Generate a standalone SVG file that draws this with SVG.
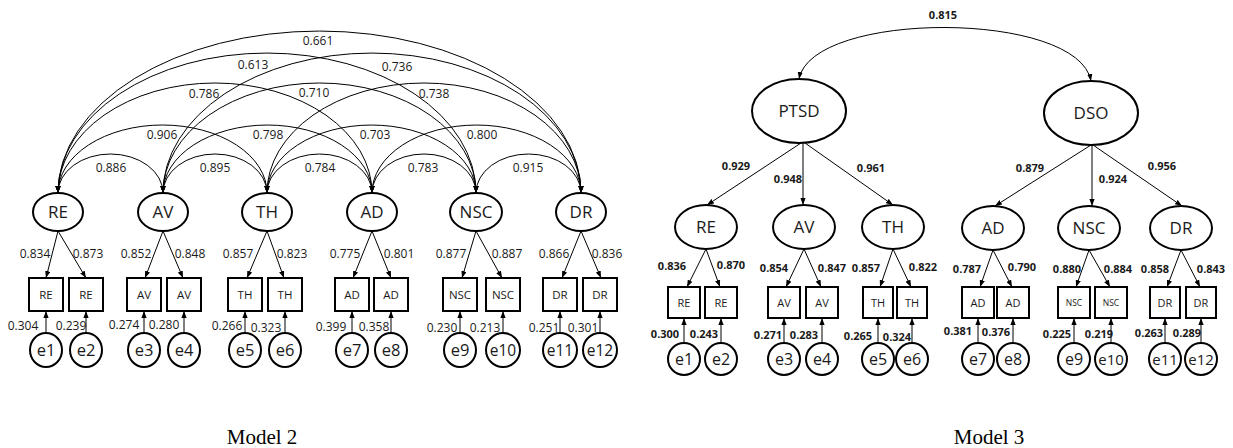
<svg xmlns="http://www.w3.org/2000/svg" width="1233" height="448" viewBox="0 0 1233 448">
<defs>
<marker id="ah" viewBox="0 0 8 6" refX="8" refY="3" markerWidth="7" markerHeight="5.5" markerUnits="userSpaceOnUse" orient="auto-start-reverse">
<path d="M0,0 L8,3 L0,6 z" fill="#000"/>
</marker>
</defs>
<style>
.lat{fill:#fff;stroke:#000;stroke-width:2}
.box{fill:#fff;stroke:#000;stroke-width:2}
.err{fill:#fff;stroke:#000;stroke-width:2}
.cn{fill:none;stroke:#000;stroke-width:1}
.ar{marker-end:url(#ah)}
.cv{fill:none;stroke:#000;stroke-width:1;marker-start:url(#ah);marker-end:url(#ah)}
text{font-family:"Open Sans","Liberation Sans",sans-serif;fill:#1a1a1a;text-anchor:middle}
.ll{font-size:17px}
.bl{font-size:11.5px}
.el{font-size:16.5px}
.n2{font-size:12px}
.n3{font-size:11px;font-weight:bold}
.cap{font-family:"Liberation Serif",serif;font-size:21px;fill:#000}
</style>

<g id="connectors">
<path class="cv" d="M58 193 A52.5 39 0 0 1 163 193"/>
<path class="cv" d="M163 193 A52 39 0 0 1 267 193"/>
<path class="cv" d="M267 193 A52.5 39 0 0 1 372 193"/>
<path class="cv" d="M372 193 A52 39 0 0 1 476 193"/>
<path class="cv" d="M476 193 A52.5 39 0 0 1 581 193"/>
<path class="cv" d="M58 193 A104.5 68 0 0 1 267 193"/>
<path class="cv" d="M163 193 A104.5 68 0 0 1 372 193"/>
<path class="cv" d="M267 193 A104.5 68 0 0 1 476 193"/>
<path class="cv" d="M372 193 A104.5 68 0 0 1 581 193"/>
<path class="cv" d="M58 193 A157 110 0 0 1 372 193"/>
<path class="cv" d="M163 193 A156.5 110 0 0 1 476 193"/>
<path class="cv" d="M267 193 A157 110 0 0 1 581 193"/>
<path class="cv" d="M58 193 A209 140 0 0 1 476 193"/>
<path class="cv" d="M163 193 A209 140 0 0 1 581 193"/>
<path class="cv" d="M58 193 A261.5 162 0 0 1 581 193"/>
<line class="cn ar" x1="58" y1="231" x2="46" y2="278"/>
<line class="cn ar" x1="58" y1="231" x2="86" y2="278"/>
<line class="cn ar" x1="163" y1="231" x2="145" y2="278"/>
<line class="cn ar" x1="163" y1="231" x2="183" y2="278"/>
<line class="cn ar" x1="267" y1="231" x2="247" y2="278"/>
<line class="cn ar" x1="267" y1="231" x2="284" y2="278"/>
<line class="cn ar" x1="372" y1="231" x2="353" y2="278"/>
<line class="cn ar" x1="372" y1="231" x2="391" y2="278"/>
<line class="cn ar" x1="476" y1="231" x2="462" y2="278"/>
<line class="cn ar" x1="476" y1="231" x2="502" y2="278"/>
<line class="cn ar" x1="581" y1="231" x2="562" y2="278"/>
<line class="cn ar" x1="581" y1="231" x2="601" y2="278"/>
<line class="cn ar" x1="46" y1="333" x2="46" y2="311"/>
<line class="cn ar" x1="86" y1="333" x2="86" y2="311"/>
<line class="cn ar" x1="144" y1="333" x2="144" y2="311"/>
<line class="cn ar" x1="184" y1="333" x2="184" y2="311"/>
<line class="cn ar" x1="245" y1="333" x2="245" y2="311"/>
<line class="cn ar" x1="285" y1="333" x2="285" y2="311"/>
<line class="cn ar" x1="352" y1="333" x2="352" y2="311"/>
<line class="cn ar" x1="391" y1="333" x2="391" y2="311"/>
<line class="cn ar" x1="460" y1="333" x2="460" y2="311"/>
<line class="cn ar" x1="503" y1="333" x2="503" y2="311"/>
<line class="cn ar" x1="560" y1="333" x2="560" y2="311"/>
<line class="cn ar" x1="600" y1="333" x2="600" y2="311"/>

<path class="cv" d="M799 79 C812 10 1078 10 1091 81"/>
<line class="cn ar" x1="801" y1="143" x2="707" y2="205"/>
<line class="cn ar" x1="803" y1="143" x2="803" y2="205"/>
<line class="cn ar" x1="805" y1="143" x2="893" y2="205"/>
<line class="cn ar" x1="1091" y1="145" x2="995" y2="206"/>
<line class="cn ar" x1="1092" y1="145" x2="1092" y2="206"/>
<line class="cn ar" x1="1093" y1="145" x2="1182" y2="206"/>
<line class="cn ar" x1="706" y1="249" x2="687" y2="287"/>
<line class="cn ar" x1="706" y1="249" x2="720" y2="287"/>
<line class="cn ar" x1="804" y1="249" x2="786" y2="287"/>
<line class="cn ar" x1="804" y1="249" x2="821" y2="287"/>
<line class="cn ar" x1="893" y1="249" x2="880" y2="287"/>
<line class="cn ar" x1="893" y1="249" x2="911" y2="287"/>
<line class="cn ar" x1="993" y1="250" x2="980" y2="287"/>
<line class="cn ar" x1="993" y1="250" x2="1012" y2="287"/>
<line class="cn ar" x1="1089" y1="250" x2="1076" y2="287"/>
<line class="cn ar" x1="1089" y1="250" x2="1110" y2="287"/>
<line class="cn ar" x1="1181" y1="250" x2="1167" y2="287"/>
<line class="cn ar" x1="1181" y1="250" x2="1200" y2="287"/>
<line class="cn ar" x1="684" y1="343" x2="684" y2="318"/>
<line class="cn ar" x1="721" y1="343" x2="721" y2="318"/>
<line class="cn ar" x1="784" y1="343" x2="784" y2="318"/>
<line class="cn ar" x1="822" y1="343" x2="822" y2="318"/>
<line class="cn ar" x1="878" y1="343" x2="878" y2="318"/>
<line class="cn ar" x1="912" y1="343" x2="912" y2="318"/>
<line class="cn ar" x1="978" y1="343" x2="978" y2="318"/>
<line class="cn ar" x1="1013" y1="343" x2="1013" y2="318"/>
<line class="cn ar" x1="1074" y1="343" x2="1074" y2="318"/>
<line class="cn ar" x1="1111" y1="343" x2="1111" y2="318"/>
<line class="cn ar" x1="1165" y1="343" x2="1165" y2="318"/>
<line class="cn ar" x1="1201" y1="343" x2="1201" y2="318"/>
</g>

<g id="labels-model2">
<text class="n2" x="318" y="45">0.661</text>
<text class="n2" x="253" y="69">0.613</text>
<text class="n2" x="397" y="71">0.736</text>
<text class="n2" x="204" y="98">0.786</text>
<text class="n2" x="314" y="97">0.710</text>
<text class="n2" x="434" y="98">0.738</text>
<text class="n2" x="162" y="139">0.906</text>
<text class="n2" x="268" y="139">0.798</text>
<text class="n2" x="375" y="139">0.703</text>
<text class="n2" x="482" y="139">0.800</text>
<text class="n2" x="111" y="172">0.886</text>
<text class="n2" x="215" y="172">0.895</text>
<text class="n2" x="320" y="172">0.784</text>
<text class="n2" x="423" y="172">0.783</text>
<text class="n2" x="528" y="172">0.915</text>
<text class="n2" x="35" y="258">0.834</text>
<text class="n2" x="88" y="258">0.873</text>
<text class="n2" x="136" y="258">0.852</text>
<text class="n2" x="190" y="258">0.848</text>
<text class="n2" x="238" y="258">0.857</text>
<text class="n2" x="292" y="258">0.823</text>
<text class="n2" x="345" y="258">0.775</text>
<text class="n2" x="399" y="258">0.801</text>
<text class="n2" x="451" y="258">0.877</text>
<text class="n2" x="507" y="258">0.887</text>
<text class="n2" x="554" y="258">0.866</text>
<text class="n2" x="607" y="258">0.836</text>
<text class="n2" x="23" y="330">0.304</text>
<text class="n2" x="71" y="330">0.239</text>
<text class="n2" x="124" y="329">0.274</text>
<text class="n2" x="164" y="329">0.280</text>
<text class="n2" x="227" y="330">0.266</text>
<text class="n2" x="266" y="332">0.323</text>
<text class="n2" x="331" y="331">0.399</text>
<text class="n2" x="374" y="331">0.358</text>
<text class="n2" x="442" y="332">0.230</text>
<text class="n2" x="485" y="332">0.213</text>
<text class="n2" x="544" y="332">0.251</text>
<text class="n2" x="583" y="332">0.301</text>
</g>

<g id="labels-model3">
<text class="n3" x="943" y="19">0.815</text>
<text class="n3" x="736" y="170">0.929</text>
<text class="n3" x="788" y="183">0.948</text>
<text class="n3" x="871" y="172">0.961</text>
<text class="n3" x="1030" y="172">0.879</text>
<text class="n3" x="1113" y="183">0.924</text>
<text class="n3" x="1162" y="170">0.956</text>
<text class="n3" x="672" y="270">0.836</text>
<text class="n3" x="731" y="269">0.870</text>
<text class="n3" x="774" y="272">0.854</text>
<text class="n3" x="832" y="272">0.847</text>
<text class="n3" x="866" y="272">0.857</text>
<text class="n3" x="923" y="271">0.822</text>
<text class="n3" x="967" y="273">0.787</text>
<text class="n3" x="1022" y="271">0.790</text>
<text class="n3" x="1067" y="273">0.880</text>
<text class="n3" x="1118" y="273">0.884</text>
<text class="n3" x="1155" y="273">0.858</text>
<text class="n3" x="1211" y="273">0.843</text>
<text class="n3" x="665" y="338">0.300</text>
<text class="n3" x="704" y="338">0.243</text>
<text class="n3" x="768" y="339">0.271</text>
<text class="n3" x="804" y="339">0.283</text>
<text class="n3" x="858" y="340">0.265</text>
<text class="n3" x="897" y="341">0.324</text>
<text class="n3" x="958" y="335">0.381</text>
<text class="n3" x="996" y="336">0.376</text>
<text class="n3" x="1057" y="338">0.225</text>
<text class="n3" x="1099" y="338">0.219</text>
<text class="n3" x="1149" y="337">0.263</text>
<text class="n3" x="1187" y="337">0.289</text>
</g>

<g id="m2-RE"><ellipse class="lat" cx="58" cy="212" rx="25" ry="19"/><text class="ll" x="58" y="218">RE</text></g>
<g id="m2-AV"><ellipse class="lat" cx="163" cy="212" rx="25" ry="19"/><text class="ll" x="163" y="218">AV</text></g>
<g id="m2-TH"><ellipse class="lat" cx="267" cy="212" rx="25" ry="19"/><text class="ll" x="267" y="218">TH</text></g>
<g id="m2-AD"><ellipse class="lat" cx="372" cy="212" rx="25" ry="19"/><text class="ll" x="372" y="218">AD</text></g>
<g id="m2-NSC"><ellipse class="lat" cx="476" cy="212" rx="26" ry="19"/><text class="ll" x="476" y="218">NSC</text></g>
<g id="m2-DR"><ellipse class="lat" cx="581" cy="212" rx="25" ry="19"/><text class="ll" x="581" y="218">DR</text></g>

<g id="m2-RE1"><rect class="box" x="29" y="278" width="34" height="33"/><text class="bl" x="46" y="299">RE</text></g>
<g id="m2-RE2"><rect class="box" x="69" y="278" width="34" height="33"/><text class="bl" x="86" y="299">RE</text></g>
<g id="m2-AV1"><rect class="box" x="127" y="278" width="34" height="33"/><text class="bl" x="144" y="299">AV</text></g>
<g id="m2-AV2"><rect class="box" x="167" y="278" width="34" height="33"/><text class="bl" x="184" y="299">AV</text></g>
<g id="m2-TH1"><rect class="box" x="228" y="278" width="34" height="33"/><text class="bl" x="245" y="299">TH</text></g>
<g id="m2-TH2"><rect class="box" x="268" y="278" width="34" height="33"/><text class="bl" x="285" y="299">TH</text></g>
<g id="m2-AD1"><rect class="box" x="335" y="278" width="34" height="33"/><text class="bl" x="352" y="299">AD</text></g>
<g id="m2-AD2"><rect class="box" x="374" y="278" width="34" height="33"/><text class="bl" x="391" y="299">AD</text></g>
<g id="m2-NSC1"><rect class="box" x="443" y="278" width="34" height="33"/><text class="bl" x="460" y="299">NSC</text></g>
<g id="m2-NSC2"><rect class="box" x="486" y="278" width="34" height="33"/><text class="bl" x="503" y="299">NSC</text></g>
<g id="m2-DR1"><rect class="box" x="543" y="278" width="34" height="33"/><text class="bl" x="560" y="299">DR</text></g>
<g id="m2-DR2"><rect class="box" x="583" y="278" width="34" height="33"/><text class="bl" x="600" y="299">DR</text></g>

<g id="m2-e1"><ellipse class="err" cx="46" cy="350" rx="16" ry="17"/><text class="el" x="46" y="356">e1</text></g>
<g id="m2-e2"><ellipse class="err" cx="86" cy="350" rx="16" ry="17"/><text class="el" x="86" y="356">e2</text></g>
<g id="m2-e3"><ellipse class="err" cx="144" cy="350" rx="16" ry="17"/><text class="el" x="144" y="356">e3</text></g>
<g id="m2-e4"><ellipse class="err" cx="184" cy="350" rx="16" ry="17"/><text class="el" x="184" y="356">e4</text></g>
<g id="m2-e5"><ellipse class="err" cx="245" cy="350" rx="16" ry="17"/><text class="el" x="245" y="356">e5</text></g>
<g id="m2-e6"><ellipse class="err" cx="285" cy="350" rx="16" ry="17"/><text class="el" x="285" y="356">e6</text></g>
<g id="m2-e7"><ellipse class="err" cx="352" cy="350" rx="16" ry="17"/><text class="el" x="352" y="356">e7</text></g>
<g id="m2-e8"><ellipse class="err" cx="391" cy="350" rx="16" ry="17"/><text class="el" x="391" y="356">e8</text></g>
<g id="m2-e9"><ellipse class="err" cx="460" cy="350" rx="16" ry="17"/><text class="el" x="460" y="356">e9</text></g>
<g id="m2-e10"><ellipse class="err" cx="503" cy="350" rx="17" ry="17"/><text class="el" x="503" y="356" style="font-size:15.5px">e10</text></g>
<g id="m2-e11"><ellipse class="err" cx="560" cy="350" rx="17" ry="17"/><text class="el" x="560" y="356" style="font-size:15.5px">e11</text></g>
<g id="m2-e12"><ellipse class="err" cx="600" cy="350" rx="17" ry="17"/><text class="el" x="600" y="356" style="font-size:15.5px">e12</text></g>

<g id="m3-PTSD"><ellipse class="lat" cx="799" cy="111" rx="47" ry="32"/><text class="ll" x="799" y="117">PTSD</text></g>
<g id="m3-DSO"><ellipse class="lat" cx="1091" cy="113" rx="47" ry="32"/><text class="ll" x="1091" y="119">DSO</text></g>

<g id="m3-RE"><ellipse class="lat" cx="706" cy="227" rx="31" ry="22"/><text class="ll" x="706" y="233">RE</text></g>
<g id="m3-AV"><ellipse class="lat" cx="804" cy="227" rx="31" ry="22"/><text class="ll" x="804" y="233">AV</text></g>
<g id="m3-TH"><ellipse class="lat" cx="893" cy="227" rx="31" ry="22"/><text class="ll" x="893" y="233">TH</text></g>
<g id="m3-AD"><ellipse class="lat" cx="993" cy="228" rx="31" ry="22"/><text class="ll" x="993" y="234">AD</text></g>
<g id="m3-NSC"><ellipse class="lat" cx="1089" cy="228" rx="31" ry="22"/><text class="ll" x="1089" y="234">NSC</text></g>
<g id="m3-DR"><ellipse class="lat" cx="1181" cy="228" rx="31" ry="22"/><text class="ll" x="1181" y="234">DR</text></g>

<g id="m3-RE1"><rect class="box" x="668" y="287" width="32" height="31"/><text class="bl" x="684" y="307" style="font-size:11px">RE</text></g>
<g id="m3-RE2"><rect class="box" x="705" y="287" width="32" height="31"/><text class="bl" x="721" y="307" style="font-size:11px">RE</text></g>
<g id="m3-AV1"><rect class="box" x="768" y="287" width="32" height="31"/><text class="bl" x="784" y="307" style="font-size:11px">AV</text></g>
<g id="m3-AV2"><rect class="box" x="806" y="287" width="32" height="31"/><text class="bl" x="822" y="307" style="font-size:11px">AV</text></g>
<g id="m3-TH1"><rect class="box" x="863" y="287" width="30" height="31"/><text class="bl" x="878" y="307" style="font-size:11px">TH</text></g>
<g id="m3-TH2"><rect class="box" x="897" y="287" width="30" height="31"/><text class="bl" x="912" y="307" style="font-size:11px">TH</text></g>
<g id="m3-AD1"><rect class="box" x="962" y="287" width="32" height="31"/><text class="bl" x="978" y="307" style="font-size:11px">AD</text></g>
<g id="m3-AD2"><rect class="box" x="997" y="287" width="32" height="31"/><text class="bl" x="1013" y="307" style="font-size:11px">AD</text></g>
<g id="m3-NSC1"><rect class="box" x="1058" y="287" width="32" height="31"/><text class="bl" x="1074" y="306" style="font-size:8.5px">NSC</text></g>
<g id="m3-NSC2"><rect class="box" x="1095" y="287" width="32" height="31"/><text class="bl" x="1111" y="306" style="font-size:8.5px">NSC</text></g>
<g id="m3-DR1"><rect class="box" x="1150" y="287" width="30" height="31"/><text class="bl" x="1165" y="307" style="font-size:11px">DR</text></g>
<g id="m3-DR2"><rect class="box" x="1186" y="287" width="30" height="31"/><text class="bl" x="1201" y="307" style="font-size:11px">DR</text></g>

<g id="m3-e1"><circle class="err" cx="684" cy="359" r="16"/><text class="el" x="684" y="365" style="font-size:16px">e1</text></g>
<g id="m3-e2"><circle class="err" cx="721" cy="359" r="16"/><text class="el" x="721" y="365" style="font-size:16px">e2</text></g>
<g id="m3-e3"><circle class="err" cx="784" cy="359" r="16"/><text class="el" x="784" y="365" style="font-size:16px">e3</text></g>
<g id="m3-e4"><circle class="err" cx="822" cy="359" r="16"/><text class="el" x="822" y="365" style="font-size:16px">e4</text></g>
<g id="m3-e5"><circle class="err" cx="878" cy="359" r="16"/><text class="el" x="878" y="365" style="font-size:16px">e5</text></g>
<g id="m3-e6"><circle class="err" cx="912" cy="359" r="16"/><text class="el" x="912" y="365" style="font-size:16px">e6</text></g>
<g id="m3-e7"><circle class="err" cx="978" cy="359" r="16"/><text class="el" x="978" y="365" style="font-size:16px">e7</text></g>
<g id="m3-e8"><circle class="err" cx="1013" cy="359" r="16"/><text class="el" x="1013" y="365" style="font-size:16px">e8</text></g>
<g id="m3-e9"><circle class="err" cx="1074" cy="359" r="16"/><text class="el" x="1074" y="365" style="font-size:16px">e9</text></g>
<g id="m3-e10"><circle class="err" cx="1111" cy="359" r="16"/><text class="el" x="1111" y="365" style="font-size:15px">e10</text></g>
<g id="m3-e11"><circle class="err" cx="1165" cy="359" r="16"/><text class="el" x="1165" y="365" style="font-size:15px">e11</text></g>
<g id="m3-e12"><circle class="err" cx="1201" cy="359" r="16"/><text class="el" x="1201" y="365" style="font-size:15px">e12</text></g>

<g id="captions">
<text class="cap" x="262" y="444">Model 2</text>
<text class="cap" x="989" y="444">Model 3</text>
</g>
</svg>
